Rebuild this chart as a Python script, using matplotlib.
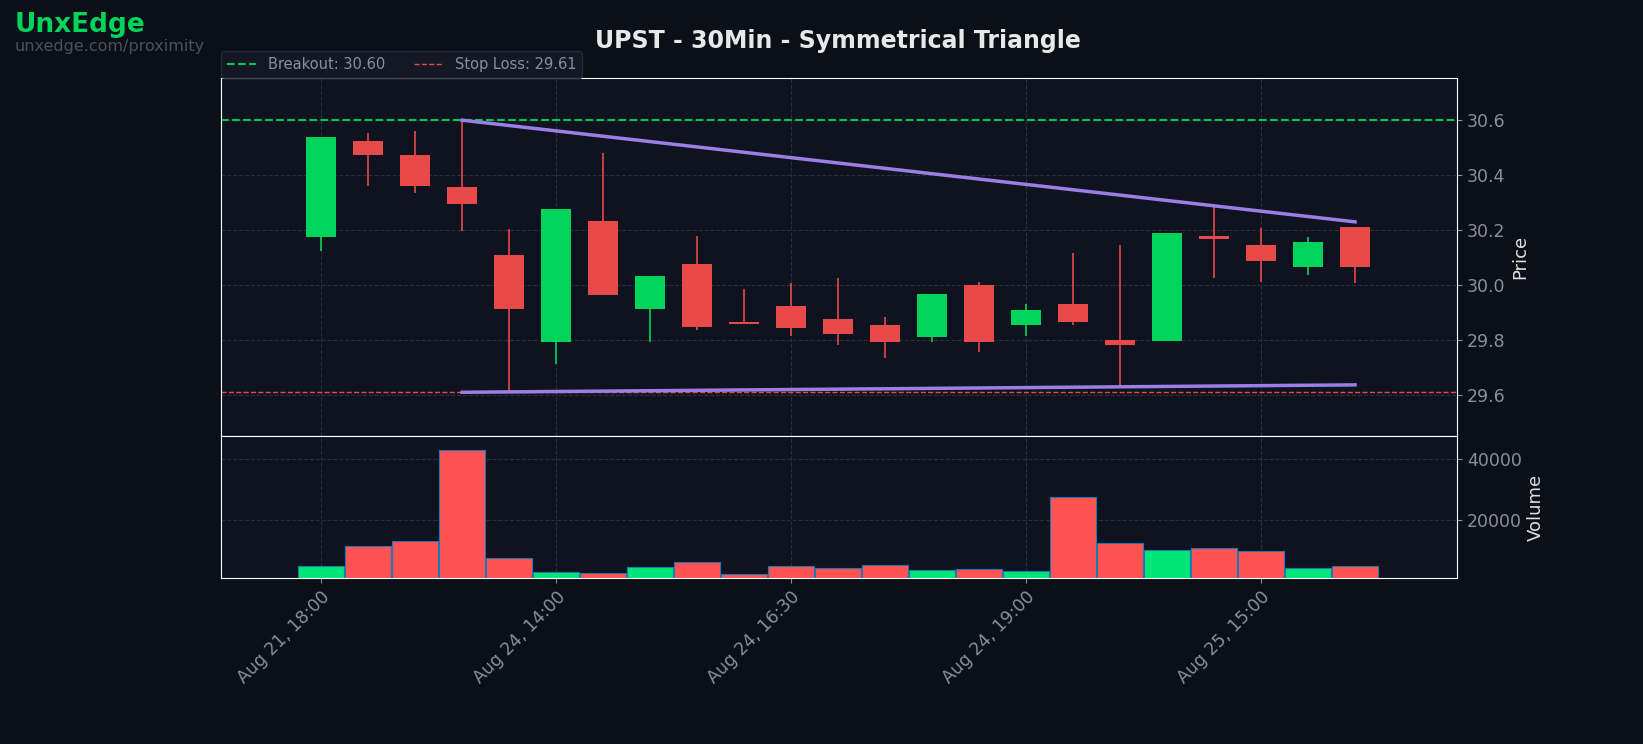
import matplotlib
matplotlib.use("Agg")
import matplotlib.pyplot as plt

tick_labels = ["Aug 21, 18:00", "Aug 24, 14:00", "Aug 24, 16:30", "Aug 24, 19:00", "Aug 25, 15:00"]
tick_pos = [0, 5, 10, 15, 20]

opens  = [30.175, 30.524, 30.473, 30.356, 30.109, 29.793, 30.233, 29.913, 30.076, 29.865, 29.924, 29.876,
          29.855, 29.811, 30.000, 29.855, 29.931, 29.800, 29.796, 30.178, 30.145, 30.066, 30.211]
highs  = [30.540, 30.553, 30.560, 30.600, 30.204, 30.276, 30.480, 30.033, 30.178, 29.985, 30.007, 30.025,
          29.884, 29.967, 30.011, 29.931, 30.116, 30.145, 30.189, 30.284, 30.207, 30.175, 30.211]
lows   = [30.124, 30.360, 30.335, 30.196, 29.607, 29.713, 29.964, 29.793, 29.836, 29.858, 29.815, 29.782,
          29.735, 29.793, 29.756, 29.815, 29.855, 29.625, 29.796, 30.025, 30.011, 30.036, 30.007]
closes = [30.538, 30.473, 30.360, 30.295, 29.913, 30.276, 29.964, 30.033, 29.847, 29.858, 29.844, 29.822,
          29.793, 29.967, 29.793, 29.909, 29.865, 29.782, 30.189, 30.167, 30.087, 30.156, 30.065]
volumes = [4900, 11500, 13100, 42950, 7540, 2950, 2600, 4600, 6230, 2300, 4900, 4260,
           5250, 3600, 3930, 3280, 27540, 12460, 10160, 10820, 9840, 4260, 4900]

breakout = 30.60
stop_loss = 29.61
upper_line = [(3, 30.60), (22, 30.23)]
lower_line = [(3, 29.61), (22, 29.637)]

bg = "#0b0f17"
ax_bg = "#0f1320"
green, red = "#00d45a", "#e84a4a"
vgreen, vred = "#00e676", "#ff5252"

fig = plt.figure(figsize=(16.43, 7.44), dpi=100, facecolor=bg)
ax = fig.add_axes([0.1345, 0.414, 0.7523, 0.481], facecolor=ax_bg)
axv = fig.add_axes([0.1345, 0.223, 0.7523, 0.191], facecolor=ax_bg, sharex=ax)

for i in range(len(opens)):
    c = green if closes[i] >= opens[i] else red
    ax.vlines(i, lows[i], highs[i], color=c, linewidth=1.2, zorder=2)
    lo, hi = min(opens[i], closes[i]), max(opens[i], closes[i])
    ax.bar(i, max(hi - lo, 0.008), bottom=lo, width=0.65, color=c, zorder=3)

ax.axhline(breakout, color="#00c853", linestyle="--", linewidth=1.5, label=f"Breakout: {breakout:.2f}")
ax.axhline(stop_loss, color="#e84a4a", linestyle="--", linewidth=1.0, label=f"Stop Loss: {stop_loss:.2f}")
ax.plot(*zip(*upper_line), color="#9b7fe6", linewidth=2.5, zorder=4)
ax.plot(*zip(*lower_line), color="#9b7fe6", linewidth=2.5, zorder=4)

vcols = [vgreen if closes[i] >= opens[i] else vred for i in range(len(opens))]
axv.bar(range(len(volumes)), volumes, width=0.98, color=vcols, edgecolor="#1f77b4", linewidth=0.8)

ax.set_xlim(-2.13, 24.17)
ax.set_ylim(29.451, 30.753)
axv.set_ylim(1000, 47500)
ax.set_yticks([29.6, 29.8, 30.0, 30.2, 30.4, 30.6])
axv.set_yticks([20000, 40000])
axv.set_xticks(tick_pos)
axv.set_xticklabels(tick_labels, rotation=45, ha="right", rotation_mode="anchor")
plt.setp(ax.get_xticklabels(), visible=False)

for a, lab in ((ax, "Price"), (axv, "Volume")):
    a.yaxis.tick_right()
    a.yaxis.set_label_position("right")
    a.set_ylabel(lab, color="#e0e0e0", fontsize=13)
    a.tick_params(colors="#8a8f99", labelsize=12.5)
    a.grid(True, color="#2a2f3d", linestyle="--", linewidth=0.8)
    a.set_axisbelow(True)
    for s in a.spines.values():
        s.set_color("#ffffff")
ax.tick_params(axis="x", length=0)

leg = ax.legend(loc="lower left", bbox_to_anchor=(0, 1.0), ncol=2, fontsize=10.5,
                frameon=True, facecolor="#161b27", edgecolor="#2a2f3d", borderaxespad=0)
for t in leg.get_texts():
    t.set_color("#8a8f99")

fig.text(0.51, 0.945, "UPST - 30Min - Symmetrical Triangle", ha="center", va="center",
         color="#e8e8e8", fontsize=17, fontweight="bold")
fig.text(0.009, 0.966, "UnxEdge", color="#00d45a", fontsize=19, fontweight="bold", va="center")
fig.text(0.009, 0.937, "unxedge.com/proximity", color="#4a505c", fontsize=11.5, va="center")

fig.savefig("out.png", dpi=100, facecolor=bg)
